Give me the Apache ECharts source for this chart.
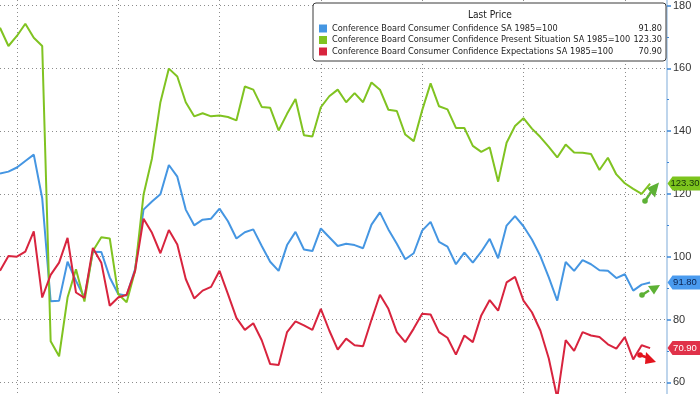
<!DOCTYPE html>
<html>
<head>
<meta charset="utf-8">
<script src="https://cdn.jsdelivr.net/npm/echarts@6/dist/echarts.min.js"></script>
<style>
html,body{margin:0;padding:0;background:#fff;}
#chart{width:700px;height:394px;}
</style>
</head>
<body>
<div id="chart"></div>
<script>
// Monthly categories (last two are empty padding months up to the axis)
const categories = [
'2019-10','2019-11','2019-12',
'2020-01','2020-02','2020-03','2020-04','2020-05','2020-06','2020-07','2020-08','2020-09','2020-10','2020-11','2020-12',
'2021-01','2021-02','2021-03','2021-04','2021-05','2021-06','2021-07','2021-08','2021-09','2021-10','2021-11','2021-12',
'2022-01','2022-02','2022-03','2022-04','2022-05','2022-06','2022-07','2022-08','2022-09','2022-10','2022-11','2022-12',
'2023-01','2023-02','2023-03','2023-04','2023-05','2023-06','2023-07','2023-08','2023-09','2023-10','2023-11','2023-12',
'2024-01','2024-02','2024-03','2024-04','2024-05','2024-06','2024-07','2024-08','2024-09','2024-10','2024-11','2024-12',
'2025-01','2025-02','2025-03','2025-04','2025-05','2025-06','2025-07','2025-08','2025-09','2025-10','2025-11','2025-12',
'2026-01','2026-02','2026-03','2026-04','2026-05'
];

const seriesNames = [
  'Conference Board Consumer Confidence SA 1985=100',
  'Conference Board Consumer Confidence Present Situation SA 1985=100',
  'Conference Board Consumer Confidence Expectations SA 1985=100'
];

const confidence = [126.5,127.1,128.4,130.5,132.5,118.6,85.8,86.0,98.4,92.3,
87.0,101.6,101.5,93.4,88.1,87.6,96.1,115.0,117.6,119.9,
129.2,125.5,115.0,110.0,111.8,112.1,115.3,111.3,105.8,107.8,
108.7,103.4,98.4,95.5,103.7,107.9,102.3,101.8,109.0,106.2,
103.4,104.1,103.7,102.7,110.2,114.1,108.7,104.1,99.2,101.1,
108.3,111.1,104.7,103.2,97.6,101.3,98.1,101.6,105.7,99.5,
109.9,112.9,109.7,105.5,100.2,93.4,86.0,98.3,95.5,98.9,
97.6,95.7,95.5,93.2,94.4,89.2,91.1,91.8];

const presentSituation = [172.9,167.1,170.3,174.2,169.7,167.1,73.1,68.3,87.0,96.0,
85.7,101.8,106.2,105.8,88.1,85.5,95.5,119.7,131.3,149.2,
159.9,157.4,149.2,144.7,145.7,144.7,145.0,144.5,143.4,154.2,
153.2,147.7,147.4,140.2,145.5,150.2,138.7,138.3,147.6,151.1,
153.2,149.2,152.1,149.2,155.5,153.2,146.8,146.4,138.9,136.8,
146.6,155.2,147.9,146.9,141.0,141.0,135.3,133.4,134.8,123.9,
136.3,141.6,144.1,140.8,138.1,135.0,131.6,135.7,133.2,133.1,
132.7,127.6,131.5,126.2,123.4,121.6,120.0,123.3];

const expectations = [95.5,100.2,100.0,101.6,108.1,87.0,94.2,98.1,106.0,88.6,
86.9,102.8,98.1,84.4,87.0,87.9,95.5,112.1,107.6,101.1,
108.5,103.9,92.9,86.7,89.2,90.4,95.5,88.1,80.5,76.7,
78.8,73.4,65.8,65.5,76.0,79.4,78.1,76.7,83.4,76.5,
70.4,73.9,71.8,71.5,79.9,87.9,83.4,76.0,72.8,77.1,
81.8,81.6,76.0,74.2,68.8,74.9,72.8,81.3,86.2,82.8,
91.8,93.6,86.0,82.3,76.5,67.6,55.0,73.4,70.0,76.0,
74.9,74.4,72.1,70.7,74.4,67.3,71.8,70.9];

const lastPrices = [91.80, 123.30, 70.90];
const yMin = 60, yMax = 180, yStep = 20;

const lineColors = ['#4596e2', '#80c321', '#d8243e'];
const tagColors  = ['#4a9bef', '#7cc41d', '#e0324a'];
const tagText    = ['#0b2350', '#14300a', '#ffffff'];

const FONT = "'Liberation Sans', Arial, sans-serif";

// choose a narrow font for the legend if one is installed, and size it to fit
function pickLegendFont() {
  const c = document.createElement('canvas').getContext('2d');
  const test = 'Conference Board 1985=100 mmmwwwiii';
  c.font = '20px monospace';
  const base = c.measureText(test).width;
  const cands = ['Liberation Sans Narrow', 'DejaVu Sans Condensed', 'Liberation Sans'];
  let fam = 'Liberation Sans';
  for (const f of cands) {
    c.font = "20px '" + f + "', monospace";
    if (Math.abs(c.measureText(test).width - base) > 0.5) { fam = f; break; }
  }
  c.font = "10px '" + fam + "'";
  const w = c.measureText(seriesNames[1]).width;
  const size = Math.min(11, 10 * 298 / w);
  return {fam: "'" + fam + "', sans-serif", size: Math.round(size * 10) / 10};
}
const LF = pickLegendFont();

const chart = echarts.init(document.getElementById('chart'), null, {renderer: 'canvas'});

const dataSets = [confidence, presentSituation, expectations];
const lastIndex = categories.length - 1;
const lastMap = {};
seriesNames.forEach((n, i) => { lastMap[n] = lastPrices[i].toFixed(2); });

const series = seriesNames.map((name, i) => ({
  name: name,
  type: 'line',
  xAxisIndex: 0, yAxisIndex: 0,
  data: dataSets[i],
  showSymbol: false,
  symbol: 'none',
  clip: false,
  lineStyle: {width: 2, color: lineColors[i]},
  itemStyle: {color: lineColors[i]},
  z: 2 + i,
  markPoint: {
    silent: true,
    symbol: 'path://M0,7 L5,0 L33,0 L33,14 L5,14 Z',
    symbolSize: [33, 14],
    symbolOffset: [17, 0],
    itemStyle: {color: tagColors[i]},
    label: {
      show: true, position: 'inside', offset: [1, 0],
      color: tagText[i], fontSize: 9.5, fontFamily: FONT,
      formatter: (p) => Number(p.value).toFixed(2)
    },
    data: [{coord: [lastIndex, lastPrices[i]], value: lastPrices[i]}]
  }
}));

function arrow(color, dot, stemEnd, tri) {
  return {
    type: 'group', silent: true, z: 20,
    children: [
      {type: 'line', shape: {x1: dot[0], y1: dot[1], x2: stemEnd[0], y2: stemEnd[1]},
       style: {stroke: color, lineWidth: 2.5}},
      {type: 'circle', shape: {cx: dot[0], cy: dot[1], r: 2.8}, style: {fill: color}},
      {type: 'polygon', shape: {points: tri}, style: {fill: color}}
    ]
  };
}

const dotted = {color: '#8c8c8c', type: [1, 3], width: 1};

const option = {
  animation: false,
  backgroundColor: '#ffffff',
  grid: [
    {left: -1, right: 33, top: 2.5, bottom: 11.7, containLabel: false},
    {left: -1, right: 33, top: 0, bottom: 0, containLabel: false}
  ],
  xAxis: [
    {
      gridIndex: 0, type: 'category', data: categories, boundaryGap: false,
      axisLine: {show: false}, axisTick: {show: false}, axisLabel: {show: false},
      splitLine: {show: false}
    },
    {
      gridIndex: 1, type: 'category', data: categories, boundaryGap: false,
      axisLine: {show: false}, axisTick: {show: false}, axisLabel: {show: false},
      splitLine: {show: true, interval: (idx) => idx % 12 === 2, lineStyle: dotted}
    }
  ],
  yAxis: [
    {
      gridIndex: 0, type: 'value', position: 'right',
      min: yMin, max: yMax, interval: yStep,
      axisLine: {show: false},
      axisTick: {show: true, length: 4, lineStyle: {color: '#3d86d6', width: 1.5}},
      minorTick: {show: true, splitNumber: 2, length: 2, lineStyle: {color: '#3d86d6', width: 1}},
      axisLabel: {show: true, margin: 6, color: '#333', fontSize: 11, fontFamily: FONT},
      splitLine: {show: true, lineStyle: dotted}
    },
    {
      gridIndex: 1, type: 'value', position: 'right', min: 0, max: 1,
      axisLine: {show: true, lineStyle: {color: '#a9c7e6', width: 1.5}},
      axisTick: {show: false}, axisLabel: {show: false}, splitLine: {show: false}
    }
  ],
  legend: {
    show: true,
    orient: 'vertical',
    left: 313, top: 3,
    padding: [20, 4, 4, 6],
    itemGap: 0.5,
    itemWidth: 8, itemHeight: 8,
    icon: 'rect',
    backgroundColor: '#ffffff',
    borderColor: '#3a3a3a', borderWidth: 1, borderRadius: 3,
    selectedMode: false,
    data: seriesNames,
    z: 10,
    textStyle: {
      fontFamily: LF.fam, fontSize: LF.size, color: '#222', lineHeight: 11,
      rich: {
        n: {width: 300, fontFamily: LF.fam, fontSize: LF.size, color: '#222', lineHeight: 11},
        v: {width: 30, align: 'right', fontFamily: LF.fam, fontSize: LF.size, color: '#222', lineHeight: 11}
      }
    },
    formatter: (name) => '{n|' + name + '}{v|' + lastMap[name] + '}'
  },
  graphic: [
    {type: 'text', left: 468, top: 10, z: 100, silent: true,
     style: {text: 'Last Price', fontFamily: LF.fam, fontSize: LF.size + 1, fill: '#222'}},
    arrow('#5db135', [645, 201], [651, 192], [[659, 182.5], [647, 188], [655, 197.5]]),
    arrow('#5db135', [642, 295], [649, 290.5], [[660, 285], [648, 286], [654, 294.5]]),
    arrow('#e3141e', [640, 355], [647, 357.5], [[656, 362], [646, 352], [645, 364]])
  ],
  series: series
};
chart.setOption(option);
</script>
</body>
</html>
